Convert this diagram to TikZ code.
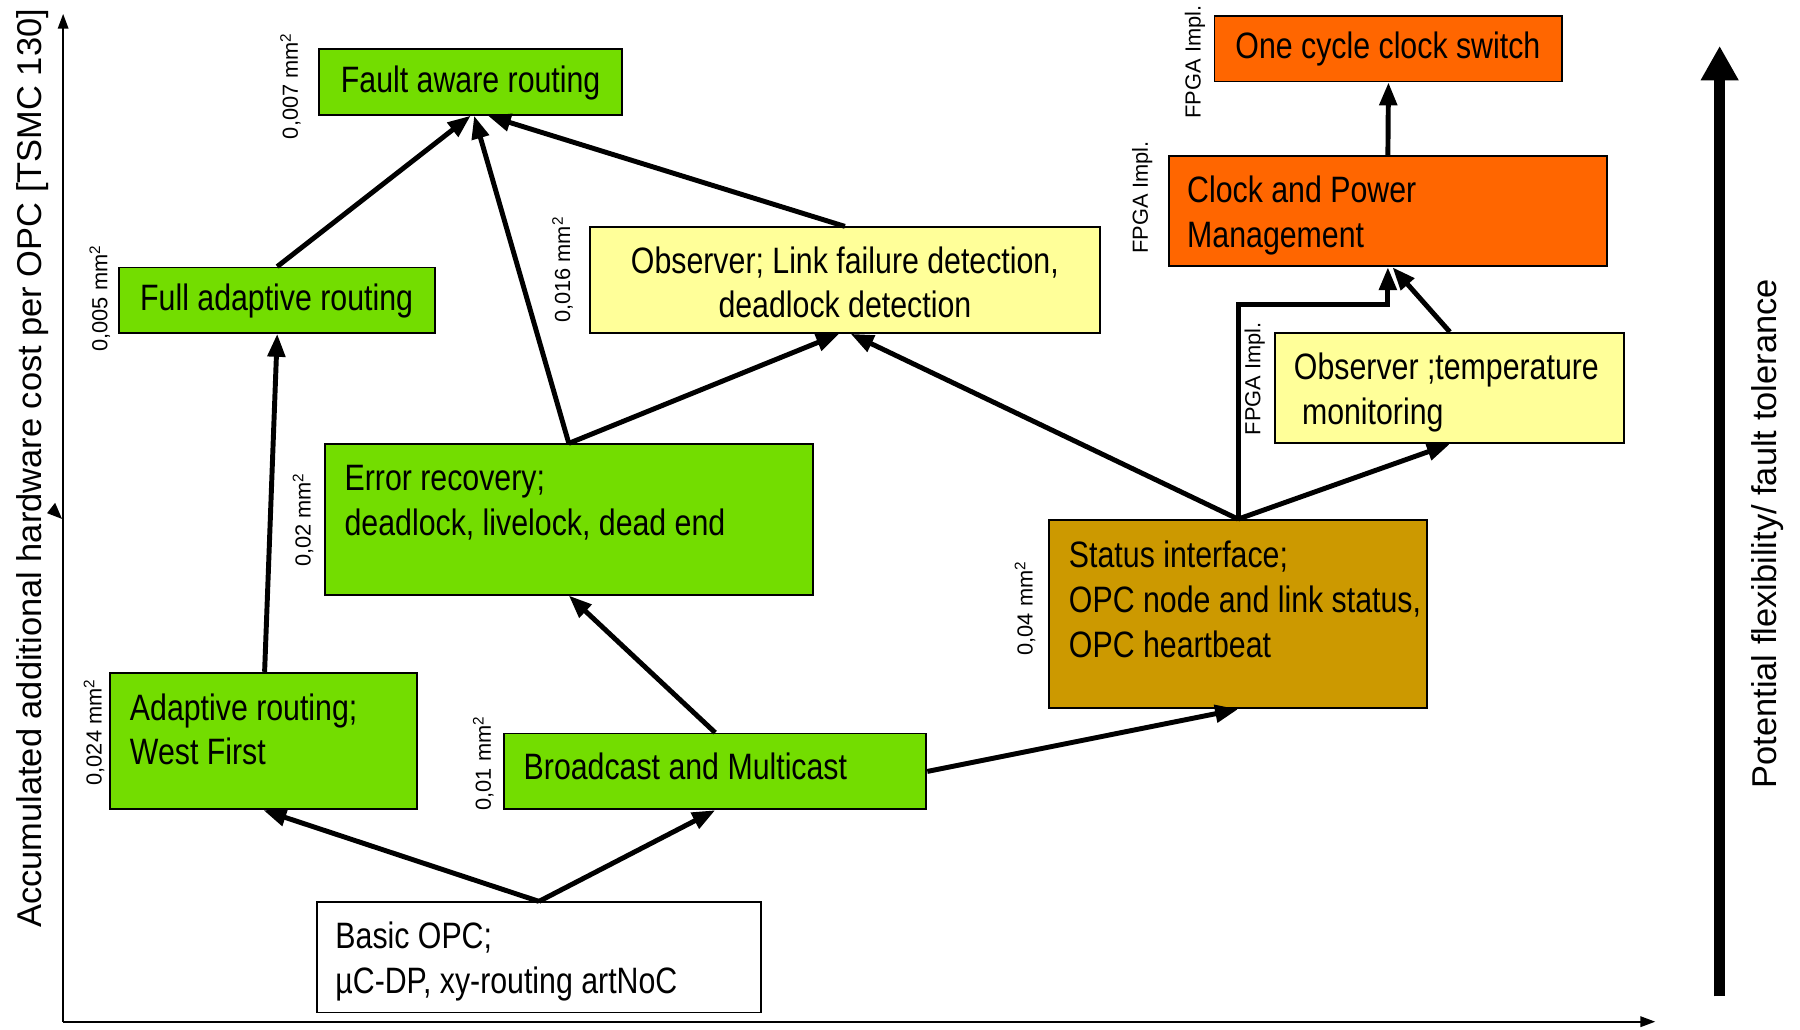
\documentclass[tikz,border=0pt]{standalone}
\usepackage{fontspec}
\setmainfont{Liberation Sans}
\newfontfamily\narrowfont[FakeStretch=0.825]{Liberation Sans}
\usetikzlibrary{arrows.meta,calc}

\definecolor{boxgreen}{RGB}{115,221,0}
\definecolor{boxyellow}{RGB}{255,255,153}
\definecolor{boxorange}{RGB}{255,102,0}
\definecolor{boxochre}{RGB}{204,153,0}

\tikzset{
  box/.style={draw=black, line width=1.6pt, inner sep=0pt, rectangle},
  boxtext/.style={font=\narrowfont\fontsize{32}{39}\selectfont, inner sep=0pt},
  cost/.style={font=\fontsize{19}{22}\selectfont, rotate=90, inner sep=0pt},
  axislabel/.style={font=\fontsize{30}{34}\selectfont, rotate=90, inner sep=0pt},
  conn/.style={line width=4.3pt, -{Triangle[length=20pt,width=15pt]}},
  axis/.style={line width=2pt, -{Triangle[length=13pt,width=9pt]}},
}

% box: name, left, top, right, bottom, fill
\newcommand{\mkbox}[6]{%
  \node[box, fill=#6, minimum width=#4-#2, minimum height=#5-#3]
    (#1) at ({(#2+#4)/2},{(#3+#5)/2}) {};}

\begin{document}
\begin{tikzpicture}[x=1pt,y=-1pt]
\useasboundingbox (0,0) rectangle (1568,897);

% axes
\coordinate (origin) at (55,890);
\coordinate (ytop) at (55,12);
\coordinate (xend) at (1442,890);
\draw[axis] (origin) -- (ytop);
\draw[axis] (origin) -- (xend);
\fill (48,438) -- (41,447) -- (54,452) -- cycle;
\node[axislabel] (ylab) at (28,408) {Accumulated additional hardware cost per OPC [TSMC 130]};

% flexibility arrow
\coordinate (flexlow) at (1498,868);
\coordinate (flexhigh) at (1498,40);
\draw[line width=10pt, -{Triangle[length=30pt,width=31pt]}] (flexlow) -- (flexhigh);
\node[axislabel] (flexlab) at (1540,465) {Potential flexibility/ fault tolerance};

% boxes
\mkbox{far}{278}{43}{542}{100}{boxgreen}
\mkbox{far2}{104}{233}{379}{290}{boxgreen}
\mkbox{obslink}{514}{198}{958}{290}{boxyellow}
\mkbox{errrec}{283}{387}{708}{518}{boxgreen}
\mkbox{adapt}{96}{586}{363}{705}{boxgreen}
\mkbox{bcast}{439}{639}{807}{705}{boxgreen}
\mkbox{basic}{276}{786}{663}{882}{white}
\mkbox{status}{914}{453}{1243}{617}{boxochre}
\mkbox{obstemp}{1111}{290}{1415}{386}{boxyellow}
\mkbox{clkpwr}{1018}{136}{1400}{232}{boxorange}
\mkbox{onecyc}{1058}{14}{1361}{71}{boxorange}

% box texts
\node[boxtext] (t-far) at (410,72) {Fault aware routing};
\node[boxtext] (t-far2) at (241,262) {Full adaptive routing};
\node[boxtext, align=center] (t-obslink) at (736,246) {Observer; Link failure detection,\\deadlock detection};
\node[boxtext, align=left, anchor=north west] (t-errrec) at (300,405) {Error recovery;\\deadlock, livelock, dead end};
\node[boxtext, align=left, anchor=north west] (t-adapt) at (113,604) {Adaptive routing;\\West First};
\node[boxtext, anchor=west] (t-bcast) at (456,668) {Broadcast and Multicast};
\node[boxtext, align=left, anchor=north west] (t-basic) at (292,803) {Basic OPC;\\µC-DP, xy-routing artNoC};
\node[boxtext, align=left, anchor=north west] (t-status) at (931,471) {Status interface;\\OPC node and link status,\\OPC heartbeat};
\node[boxtext, align=left, anchor=north west] (t-obstemp) at (1127,307) {Observer ;temperature\\\hspace*{7pt}monitoring};
\node[boxtext, align=left, anchor=north west] (t-clkpwr) at (1034,153) {Clock and Power\\Management};
\node[boxtext] (t-onecyc) at (1209,43) {One cycle clock switch};

% cost annotations
\node[cost] (c-far) at (253,75) {0,007 mm\textsuperscript{2}};
\node[cost] (c-far2) at (87,260) {0,005 mm\textsuperscript{2}};
\node[cost] (c-obslink) at (490,235) {0,016 mm\textsuperscript{2}};
\node[cost] (c-errrec) at (264,453) {0,02 mm\textsuperscript{2}};
\node[cost] (c-adapt) at (82,638) {0,024 mm\textsuperscript{2}};
\node[cost] (c-bcast) at (421,665) {0,01 mm\textsuperscript{2}};
\node[cost] (c-status) at (893,530) {0,04 mm\textsuperscript{2}};
\node[cost] (f-onecyc) at (1041,54) {FPGA Impl.};
\node[cost] (f-clkpwr) at (995,172) {FPGA Impl.};
\node[cost] (f-obstemp) at (1093,330) {FPGA Impl.};

% connectors
\draw[conn] (far2.north) -- (far.south);
\draw[conn] (errrec.north) -- ($(far.south)+(3,0)$);
\draw[conn] (obslink.north) -- ($(far.south)+(15,0)$);
\draw[conn] (errrec.north) -- ($(obslink.south)+(-5,0)$);
\draw[conn] (status.north) -- ($(obslink.south)+(5,0)$);
\draw[conn] (status.north) -- (obstemp.south);
\coordinate (bend1) at (status.north |- 0,265);
\coordinate (bend2) at (clkpwr.south |- 0,265);
\draw[conn] (status.north) -- (bend1) -- (bend2) -- (clkpwr.south);
\draw[conn] (obstemp.north) -- ($(clkpwr.south)+(4,0)$);
\draw[conn] (clkpwr.north) -- (onecyc.south);
\draw[conn] ($(adapt.north)+(1,0)$) -- (far2.south);
\draw[conn] (bcast.north) -- (errrec.south);
\draw[conn] (basic.north) -- (adapt.south);
\draw[conn] (basic.north) -- (bcast.south);
\draw[conn] (bcast.east) -- (status.south);

\end{tikzpicture}
\end{document}
